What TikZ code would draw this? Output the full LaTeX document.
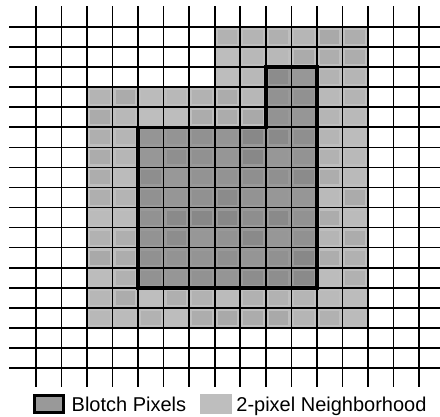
\documentclass[tikz,border=0pt]{standalone}
\usepackage{fontspec}
\setmainfont{Liberation Sans}
\usetikzlibrary{positioning}
\definecolor{grisclaro}{HTML}{BEBEBE}
\definecolor{grisoscuro}{HTML}{999999}

\begin{document}
\begin{tikzpicture}[x=25.53pt,y=20.06pt,line cap=rect,
      rejilla/.style={black,line width=1.6pt},
      borde/.style={black,line width=3.5pt,line join=miter},
      muestra/.style={minimum width=29pt,minimum height=17pt,inner sep=0pt},
      leyenda/.style={font=\fontsize{20}{22}\selectfont,inner sep=0pt,
                      text height=14pt,text depth=0pt}]
    \useasboundingbox (-1.41,-2.393) rectangle (15.824,18.345);
    % vecindad de 2 pixeles y mancha
    \fill[grisclaro] (2,2) -- (13,2) -- (13,17) -- (7,17) -- (7,14) -- (2,14) -- cycle;
    \fill[grisoscuro] (4,4) -- (11,4) -- (11,15) -- (9,15) -- (9,12) -- (4,12) -- cycle;
    % moteado
    \pgfmathsetseed{42}
    \foreach \i/\a/\b in {2/2/13,3/2/13,4/2/13,5/2/13,6/2/13,7/2/16,
                          8/2/16,9/2/16,10/2/16,11/2/16,12/2/16}{
      \foreach \j in {\a,...,\b}{
        \pgfmathsetmacro\op{0.11*rnd}
        \fill[black,opacity=\op] (\i+0.12,\j+0.15) rectangle (\i+0.88,\j+0.85);
      }
    }
    % rejilla
    \foreach \x in {0,...,15}
      \draw[rejilla] (\x,-0.9) -- (\x,18);
    \foreach \y in {0,...,17}
      \draw[rejilla] (-1.02,\y) -- (15.82,\y);
    \draw[borde] (4,4) -- (11,4) -- (11,15) -- (9,15) -- (9,12) -- (4,12) -- cycle;
    % leyenda
    \node[muestra,draw=black,line width=3pt,fill=grisoscuro] (mancha) at (0.509,-1.795) {};
    \node[leyenda,right=6.5pt of mancha] (textomancha) {Blotch Pixels};
    \node[muestra,minimum width=32pt,minimum height=20pt,fill=grisclaro] (vecindad) at (7.05,-1.795) {};
    \node[leyenda,right=4pt of vecindad] (textovecindad) {2-pixel Neighborhood};
  \end{tikzpicture}
\end{document}
